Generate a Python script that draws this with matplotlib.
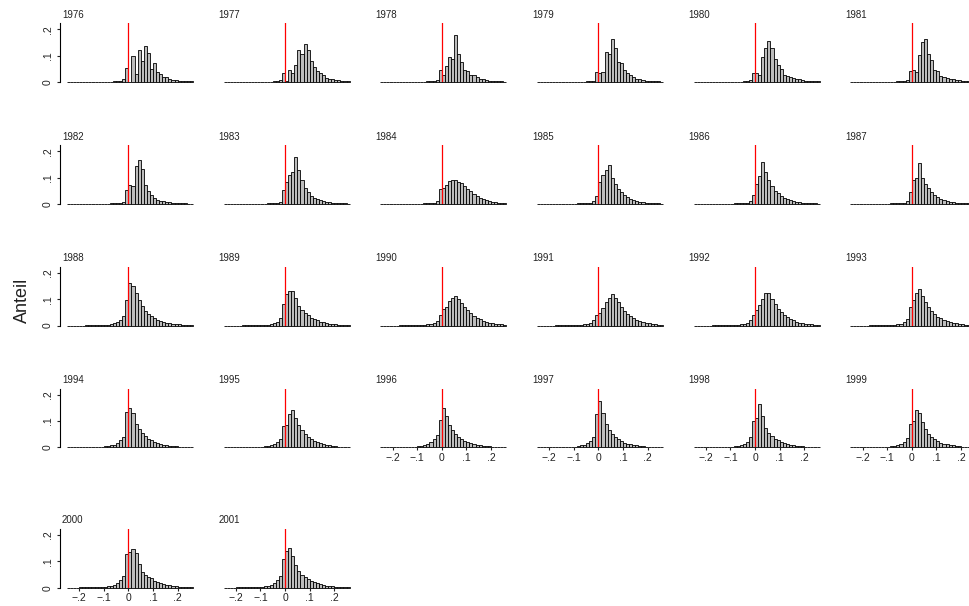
import numpy as np
import matplotlib
matplotlib.use('Agg')
import matplotlib.pyplot as plt

plt.rcParams['font.family'] = ['Liberation Sans', 'DejaVu Sans']

# Histogram bins: width 0.0125 from -0.25 to 0.2625 (41 bins)
edges = np.linspace(-0.25, 0.2625, 42)

years = [1976, 1977, 1978, 1979, 1980, 1981,
         1982, 1983, 1984, 1985, 1986, 1987,
         1988, 1989, 1990, 1991, 1992, 1993,
         1994, 1995, 1996, 1997, 1998, 1999,
         2000, 2001]

# Shares per bin in per mille (20 bins below zero, 21 bins from zero upwards)
h1976 = [0, 0, 0, 0, 0, 0, 0, 0, 0, 0, 1, 1, 1, 1, 1, 2, 2, 3, 13, 52,
         0, 98, 30, 120, 80, 136, 110, 50, 72, 38, 30, 20, 18, 10, 8, 6, 5, 4, 3, 2, 2]
h1977 = [0, 0, 0, 0, 0, 0, 0, 0, 0, 0, 0, 1, 1, 1, 1, 1, 2, 3, 8, 35,
         4, 44, 33, 65, 120, 106, 144, 120, 81, 58, 42, 35, 27, 16, 12, 10, 8, 6, 4, 3, 2]
h1978 = [0, 0, 0, 0, 0, 0, 0, 0, 0, 0, 0, 1, 1, 1, 1, 2, 2, 3, 6, 46,
         25, 61, 96, 86, 180, 106, 75, 46, 42, 28, 25, 18, 12, 10, 7, 5, 4, 3, 2, 2, 1]
h1979 = [0, 0, 0, 0, 0, 0, 0, 0, 0, 0, 0, 1, 1, 1, 1, 1, 2, 3, 5, 38,
         35, 38, 113, 105, 163, 128, 75, 74, 46, 35, 25, 18, 13, 10, 7, 5, 4, 3, 2, 2, 1]
h1980 = [0, 0, 0, 0, 0, 0, 0, 0, 0, 0, 0, 1, 1, 1, 1, 1, 2, 3, 6, 35,
         35, 25, 94, 128, 157, 128, 86, 65, 48, 25, 23, 20, 15, 12, 10, 7, 5, 4, 3, 2, 2]
h1981 = [0, 0, 0, 0, 0, 0, 0, 0, 0, 0, 1, 1, 1, 1, 1, 2, 3, 5, 8, 42,
         44, 38, 103, 150, 162, 106, 84, 44, 40, 24, 20, 16, 12, 10, 8, 6, 4, 3, 2, 2, 1]
h1982 = [0, 0, 0, 0, 0, 0, 0, 0, 0, 0, 1, 1, 1, 1, 2, 2, 3, 5, 9, 54,
         73, 70, 143, 168, 133, 73, 50, 35, 23, 16, 12, 10, 8, 6, 5, 4, 3, 2, 2, 1, 1]
h1983 = [0, 0, 0, 0, 0, 0, 0, 0, 0, 0, 1, 1, 1, 1, 2, 2, 3, 4, 8, 55,
         85, 110, 120, 177, 130, 90, 60, 45, 32, 24, 18, 14, 10, 8, 6, 5, 4, 3, 2, 2, 1]
h1984 = [0, 0, 0, 0, 0, 0, 0, 0, 0, 0, 1, 1, 1, 1, 2, 2, 3, 4, 10, 58,
         62, 72, 88, 92, 90, 85, 78, 68, 58, 48, 38, 30, 24, 18, 14, 11, 8, 6, 5, 4, 3]
h1985 = [0, 0, 0, 0, 0, 0, 0, 0, 0, 0, 1, 1, 1, 2, 2, 3, 4, 5, 12, 30,
         85, 110, 128, 148, 100, 75, 58, 45, 34, 26, 20, 15, 12, 9, 7, 5, 4, 3, 2, 2, 1]
h1986 = [0, 0, 0, 0, 0, 0, 0, 0, 0, 0, 1, 1, 1, 2, 2, 3, 3, 4, 10, 35,
         75, 105, 160, 120, 90, 70, 50, 40, 30, 24, 18, 14, 11, 8, 6, 5, 4, 3, 2, 2, 1]
h1987 = [0, 0, 0, 0, 0, 0, 0, 0, 0, 0, 1, 1, 1, 2, 2, 3, 3, 4, 12, 45,
         90, 100, 155, 100, 75, 60, 45, 35, 27, 20, 16, 12, 9, 7, 5, 4, 3, 3, 2, 1, 1]
h1988 = [0, 0, 0, 0, 0, 0, 1, 1, 1, 1, 1, 1, 2, 2, 4, 8, 15, 22, 37, 97,
         160, 150, 123, 95, 75, 55, 45, 35, 27, 21, 16, 13, 10, 8, 6, 5, 4, 3, 2, 2, 1]
h1989 = [0, 0, 0, 0, 0, 0, 1, 1, 1, 1, 1, 1, 2, 2, 3, 5, 8, 13, 28, 80,
         120, 132, 130, 105, 75, 60, 48, 38, 30, 24, 19, 15, 12, 9, 7, 5, 4, 3, 2, 2, 1]
h1990 = [0, 0, 0, 0, 0, 0, 1, 1, 1, 1, 1, 1, 2, 2, 3, 4, 6, 10, 18, 40,
         62, 72, 92, 105, 112, 100, 85, 70, 57, 46, 37, 29, 23, 18, 14, 11, 9, 7, 5, 4, 3]
h1991 = [0, 0, 0, 0, 0, 0, 1, 1, 1, 1, 1, 1, 2, 2, 3, 4, 6, 10, 20, 40,
         48, 65, 90, 105, 120, 103, 88, 70, 56, 44, 35, 27, 21, 16, 12, 10, 8, 6, 4, 3, 3]
h1992 = [0, 0, 0, 0, 0, 0, 1, 1, 1, 1, 1, 1, 2, 2, 3, 4, 6, 10, 20, 40,
         58, 78, 100, 125, 123, 100, 80, 64, 50, 40, 31, 24, 19, 15, 11, 9, 7, 5, 4, 3, 2]
h1993 = [0, 0, 0, 0, 0, 0, 1, 1, 1, 1, 1, 1, 2, 2, 3, 4, 7, 12, 25, 70,
         95, 122, 140, 113, 90, 70, 55, 43, 34, 27, 21, 16, 13, 10, 8, 6, 4, 3, 2, 2, 1]
h1994 = [0, 0, 0, 0, 1, 1, 1, 1, 1, 2, 2, 3, 4, 5, 7, 10, 18, 28, 40, 135,
         148, 132, 89, 68, 56, 43, 33, 28, 22, 17, 13, 10, 8, 6, 5, 4, 3, 2, 2, 1, 1]
h1995 = [0, 0, 0, 0, 1, 1, 1, 1, 1, 2, 2, 2, 3, 4, 6, 8, 12, 20, 30, 80,
         85, 125, 140, 110, 85, 65, 50, 40, 32, 25, 20, 15, 12, 9, 7, 5, 4, 3, 2, 2, 1]
h1996 = [0, 0, 0, 0, 1, 1, 1, 1, 1, 2, 2, 3, 4, 6, 8, 12, 20, 30, 45, 105,
         150, 120, 85, 65, 50, 40, 32, 25, 20, 16, 12, 10, 8, 6, 5, 4, 3, 2, 2, 1, 1]
h1997 = [0, 0, 0, 0, 1, 1, 1, 1, 1, 2, 2, 2, 3, 5, 7, 10, 16, 25, 40, 125,
         175, 130, 90, 65, 50, 38, 30, 23, 18, 14, 11, 9, 7, 5, 4, 3, 3, 2, 1, 1, 1]
h1998 = [0, 0, 0, 0, 1, 1, 1, 1, 1, 2, 2, 2, 3, 4, 6, 9, 14, 22, 40, 100,
         110, 165, 120, 75, 55, 42, 33, 26, 20, 16, 12, 10, 8, 6, 5, 4, 3, 2, 2, 1, 1]
h1999 = [0, 0, 0, 0, 1, 1, 1, 1, 1, 2, 2, 2, 3, 4, 6, 9, 14, 20, 35, 90,
         100, 140, 130, 95, 68, 50, 38, 30, 23, 18, 14, 11, 9, 7, 5, 4, 3, 2, 2, 1, 1]
h2000 = [0, 0, 0, 0, 1, 1, 1, 1, 1, 2, 2, 3, 4, 6, 8, 12, 18, 28, 44, 128,
         135, 146, 132, 90, 60, 50, 42, 35, 27, 22, 18, 14, 11, 9, 7, 5, 4, 3, 2, 2, 1]
h2001 = [0, 0, 0, 0, 1, 1, 1, 1, 1, 2, 2, 3, 4, 6, 8, 12, 18, 28, 45, 110,
         140, 150, 120, 85, 62, 50, 40, 32, 26, 21, 17, 13, 10, 8, 6, 5, 4, 3, 2, 2, 1]

shares = [h1976, h1977, h1978, h1979, h1980, h1981,
          h1982, h1983, h1984, h1985, h1986, h1987,
          h1988, h1989, h1990, h1991, h1992, h1993,
          h1994, h1995, h1996, h1997, h1998, h1999,
          h2000, h2001]

yticks = [0, 0.1, 0.2]
ytick_labels = ['0', '.1', '.2']
xticks = [-0.2, -0.1, 0, 0.1, 0.2]
xtick_labels = ['\u2212.2', '\u2212.1', '0', '.1', '.2']

W, H = 969, 606
fig = plt.figure(figsize=(W / 100, H / 100), dpi=100)

# panel grid in pixels
col_left = 60
col_step = 156.67
row_base = [82, 204, 325.5, 447.3, 587.7]
xlim = (-0.278, 0.27)
ylim = (0, 0.223)
ax_w = (xlim[1] - xlim[0]) * 246
ax_h = ylim[1] * 263.5

ncols = 6
for i, (year, vals) in enumerate(zip(years, shares)):
    r, c = divmod(i, ncols)
    left = col_left + c * col_step
    ax = fig.add_axes([left / W, 1 - row_base[r] / H, ax_w / W, ax_h / H])
    ax.bar(edges[:-1], np.array(vals) / 1000, width=edges[1] - edges[0],
           align='edge', color='#bdbdbd', edgecolor='black', linewidth=0.6,
           clip_on=False)
    ax.axvline(0, color='red', lw=0.9, zorder=3)
    ax.set_xlim(*xlim)
    ax.set_ylim(*ylim)
    ax.patch.set_visible(False)
    for s in ['top', 'right', 'bottom']:
        ax.spines[s].set_visible(False)
    ax.spines['left'].set_linewidth(0.8)

    if c == 0:
        ax.set_yticks(yticks)
        ax.set_yticklabels(ytick_labels, rotation=90, va='center')
        ax.tick_params(axis='y', length=2.5, width=0.8, pad=2.5,
                       labelsize=7.5, colors='#222222')
    else:
        ax.spines['left'].set_visible(False)
        ax.set_yticks([])

    # x axis only where no panel sits below
    if i + ncols >= len(years):
        ax.set_xticks(xticks)
        ax.set_xticklabels(xtick_labels)
        ax.tick_params(axis='x', length=2.5, width=0.8, pad=1.5,
                       labelsize=7.5, colors='#222222')
    else:
        ax.set_xticks([])

    fig.text((left + 2) / W, 1 - (row_base[r] - ax_h - 8.5) / H, str(year),
             fontsize=7, color='#222222', ha='left', va='center')

fig.text(22 / W, 1 - 300 / H, 'Anteil', rotation=90, fontsize=13,
         color='#222222', ha='center', va='center')

fig.savefig('out.png', dpi=100)
